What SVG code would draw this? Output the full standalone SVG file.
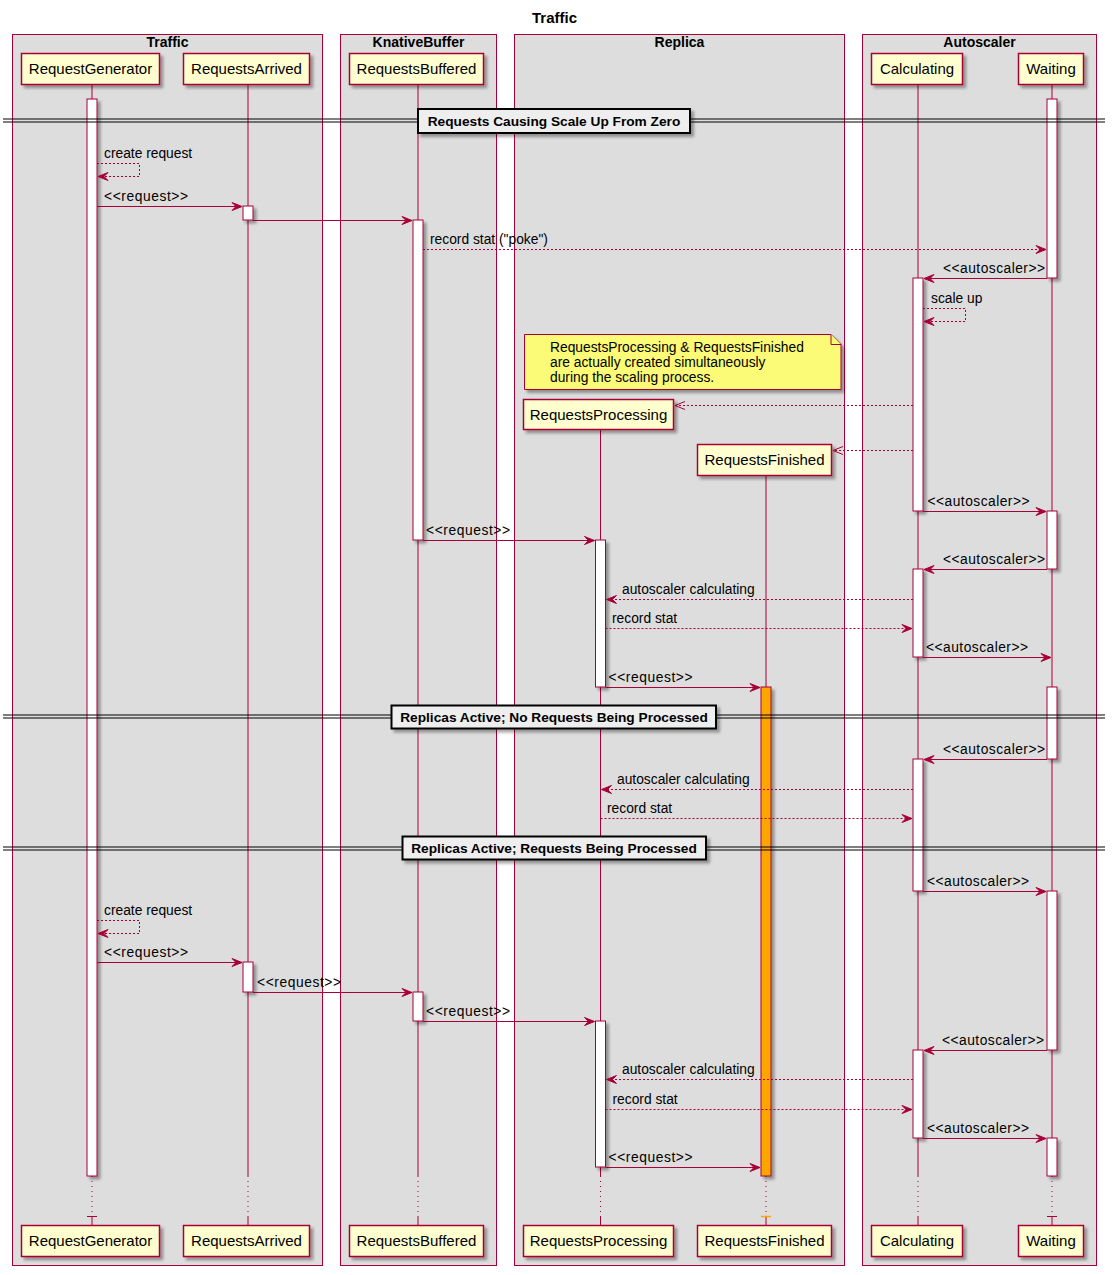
<svg xmlns="http://www.w3.org/2000/svg" width="1116" height="1275" viewBox="0 0 1116 1275">
<style>
text{font-family:"Liberation Sans",Arial,sans-serif;fill:#000}
.grp{fill:#DDDDDD;stroke:#A80036;stroke-width:1}
.grpt{font-size:14px;font-weight:bold;text-anchor:middle}
.title{font-size:15px;font-weight:bold;text-anchor:middle}
.part{fill:#FEFECE;stroke:#A80036;stroke-width:1.5;filter:url(#sh)}
.pt{font-size:15px;text-anchor:middle}
.life{stroke:#A80036;stroke-width:1;fill:none}
.dot{stroke-dasharray:1 4}
.act{fill:#FFFFFF;stroke:#A80036;stroke-width:1;filter:url(#sh)}
.acto{fill:#FFA500;stroke:#A80036;stroke-width:1;filter:url(#sh)}
.msg{stroke:#A80036;stroke-width:1;fill:none}
.dash{stroke-dasharray:2 2}
.mt{font-size:13.8px}
.note{fill:#FBFB77;stroke:#A80036;stroke-width:1}
.dl{stroke:#000;stroke-width:1.2}
.db{fill:#EEEEEE;stroke:#000;stroke-width:2;filter:url(#sh)}
.dt{font-size:13.7px;font-weight:bold;text-anchor:middle}
</style>
<defs>
<filter id="sh" x="-60%" y="-20%" width="220%" height="160%">
<feGaussianBlur in="SourceAlpha" stdDeviation="1.5"/>
<feOffset dx="3" dy="3"/>
<feComponentTransfer><feFuncA type="linear" slope="0.35"/></feComponentTransfer>
<feMerge><feMergeNode/><feMergeNode in="SourceGraphic"/></feMerge>
</filter>
<marker id="af" markerUnits="userSpaceOnUse" markerWidth="12" markerHeight="10" refX="10" refY="4" orient="auto" overflow="visible">
<path d="M0,0 L10,4 L0,8 L4,4 Z" fill="#A80036" stroke="#A80036" stroke-width="1" stroke-dasharray="none"/>
</marker>
<marker id="ao" markerUnits="userSpaceOnUse" markerWidth="12" markerHeight="10" refX="10" refY="4" orient="auto" overflow="visible">
<path d="M0,0 L10,4 L0,8" fill="none" stroke="#A80036" stroke-width="1" stroke-dasharray="none"/>
</marker>
</defs>
<rect width="1116" height="1275" fill="#FFFFFF"/>
<text class="title" x="554.5" y="23">Traffic</text>

<g id="boxes">
<g id="box-traffic"><rect class="grp" x="12.5" y="34.5" width="310" height="1231"/><text class="grpt" x="167.5" y="47">Traffic</text></g>
<g id="box-knativebuffer"><rect class="grp" x="340.5" y="34.5" width="156" height="1231"/><text class="grpt" x="418.5" y="47">KnativeBuffer</text></g>
<g id="box-replica"><rect class="grp" x="514.5" y="34.5" width="330" height="1231"/><text class="grpt" x="679.5" y="47">Replica</text></g>
<g id="box-autoscaler"><rect class="grp" x="862.5" y="34.5" width="234" height="1231"/><text class="grpt" x="979.5" y="47">Autoscaler</text></g>
</g>

<g id="RequestGenerator">
<line class="life" x1="92" y1="84.5" x2="92" y2="1176"/>
<line class="life dot" x1="92" y1="1176" x2="92" y2="1216"/>
<line class="life" x1="92" y1="1216" x2="92" y2="1225.5"/>
<rect class="act" x="87" y="99" width="10" height="1077"/>
<line class="life" x1="87" y1="1216.5" x2="97" y2="1216.5"/>
<rect class="part" x="21.5" y="53.5" width="138" height="31"/><text class="pt" x="90.5" y="74">RequestGenerator</text>
<rect class="part" x="21.5" y="1225.5" width="138" height="31"/><text class="pt" x="90.5" y="1246">RequestGenerator</text>
</g>

<g id="RequestsArrived">
<line class="life" x1="248" y1="84.5" x2="248" y2="1176"/>
<line class="life dot" x1="248" y1="1176" x2="248" y2="1216"/>
<line class="life" x1="248" y1="1216" x2="248" y2="1225.5"/>
<rect class="act" x="243" y="206" width="10" height="14"/>
<rect class="act" x="243" y="962" width="10" height="30"/>
<rect class="part" x="183.5" y="53.5" width="126" height="31"/><text class="pt" x="246.5" y="74">RequestsArrived</text>
<rect class="part" x="183.5" y="1225.5" width="126" height="31"/><text class="pt" x="246.5" y="1246">RequestsArrived</text>
</g>

<g id="RequestsBuffered">
<line class="life" x1="418" y1="84.5" x2="418" y2="1176"/>
<line class="life dot" x1="418" y1="1176" x2="418" y2="1216"/>
<line class="life" x1="418" y1="1216" x2="418" y2="1225.5"/>
<rect class="act" x="413" y="220" width="10" height="320"/>
<rect class="act" x="413" y="992" width="10" height="29"/>
<rect class="part" x="349.5" y="53.5" width="134" height="31"/><text class="pt" x="416.5" y="74">RequestsBuffered</text>
<rect class="part" x="349.5" y="1225.5" width="134" height="31"/><text class="pt" x="416.5" y="1246">RequestsBuffered</text>
</g>

<g id="RequestsProcessing">
<line class="life" x1="600.5" y1="429.5" x2="600.5" y2="1176"/>
<line class="life dot" x1="600.5" y1="1176" x2="600.5" y2="1216"/>
<line class="life" x1="600.5" y1="1216" x2="600.5" y2="1225.5"/>
<rect class="act" x="595.5" y="540" width="10" height="147"/>
<rect class="act" x="595.5" y="1021" width="10" height="146"/>
<rect class="part" x="523.5" y="399.5" width="150" height="30"/><text class="pt" x="598.5" y="420">RequestsProcessing</text>
<rect class="part" x="523.5" y="1225.5" width="150" height="31"/><text class="pt" x="598.5" y="1246">RequestsProcessing</text>
</g>

<g id="RequestsFinished">
<line class="life" x1="766" y1="475.5" x2="766" y2="1176"/>
<line class="life dot" x1="766" y1="1176" x2="766" y2="1216"/>
<line class="life" x1="766" y1="1216" x2="766" y2="1225.5"/>
<rect class="acto" x="761" y="687" width="10" height="489"/>
<line x1="761" y1="1216.5" x2="771" y2="1216.5" stroke="#FFA500" stroke-width="1.5"/>
<rect class="part" x="697.5" y="444.5" width="134" height="31"/><text class="pt" x="764.5" y="465">RequestsFinished</text>
<rect class="part" x="697.5" y="1225.5" width="134" height="31"/><text class="pt" x="764.5" y="1246">RequestsFinished</text>
</g>

<g id="Calculating">
<line class="life" x1="918" y1="84.5" x2="918" y2="1176"/>
<line class="life dot" x1="918" y1="1176" x2="918" y2="1216"/>
<line class="life" x1="918" y1="1216" x2="918" y2="1225.5"/>
<rect class="act" x="913" y="278" width="10" height="233"/>
<rect class="act" x="913" y="569" width="10" height="88"/>
<rect class="act" x="913" y="759" width="10" height="132"/>
<rect class="act" x="913" y="1050" width="10" height="88"/>
<rect class="part" x="871.5" y="53.5" width="91" height="31"/><text class="pt" x="917" y="74">Calculating</text>
<rect class="part" x="871.5" y="1225.5" width="91" height="31"/><text class="pt" x="917" y="1246">Calculating</text>
</g>

<g id="Waiting">
<line class="life" x1="1052" y1="84.5" x2="1052" y2="1176"/>
<line class="life dot" x1="1052" y1="1176" x2="1052" y2="1216"/>
<line class="life" x1="1052" y1="1216" x2="1052" y2="1225.5"/>
<rect class="act" x="1047" y="99" width="10" height="179"/>
<rect class="act" x="1047" y="511" width="10" height="58"/>
<rect class="act" x="1047" y="687" width="10" height="72"/>
<rect class="act" x="1047" y="891" width="10" height="159"/>
<rect class="act" x="1047" y="1138" width="10" height="38"/>
<line class="life" x1="1047" y1="1216.5" x2="1057" y2="1216.5"/>
<rect class="part" x="1018.5" y="53.5" width="65" height="31"/><text class="pt" x="1051" y="74">Waiting</text>
<rect class="part" x="1018.5" y="1225.5" width="65" height="31"/><text class="pt" x="1051" y="1246">Waiting</text>
</g>

<g id="note">
<path class="note" filter="url(#sh)" d="M524.5,334.5 L831,334.5 L841,344.5 L841,389.5 L524.5,389.5 Z"/>
<path class="note" d="M831,334.5 L831,344.5 L841,344.5"/>
<text class="mt" x="550" y="352">RequestsProcessing &amp; RequestsFinished</text>
<text class="mt" x="550" y="367">are actually created simultaneously</text>
<text class="mt" x="550" y="382">during the scaling process.</text>
</g>

<g id="divider1">
<line class="dl" x1="3" y1="119" x2="1105" y2="119"/><line class="dl" x1="3" y1="122" x2="1105" y2="122"/>
<rect class="db" x="418" y="109" width="272" height="24"/>
<text class="dt" x="554" y="126">Requests Causing Scale Up From Zero</text>
</g>
<g id="divider2">
<line class="dl" x1="3" y1="715" x2="1105" y2="715"/><line class="dl" x1="3" y1="718" x2="1105" y2="718"/>
<rect class="db" x="391.5" y="705.5" width="324.5" height="23"/>
<text class="dt" x="554" y="722">Replicas Active; No Requests Being Processed</text>
</g>
<g id="divider3">
<line class="dl" x1="3" y1="847" x2="1105" y2="847"/><line class="dl" x1="3" y1="850" x2="1105" y2="850"/>
<rect class="db" x="402.5" y="836.5" width="303.5" height="23"/>
<text class="dt" x="554" y="853">Replicas Active; Requests Being Processed</text>
</g>

<g id="connectors">
<path class="msg dash" marker-end="url(#af)" d="M97,163.5 H139.5 V176.5 H98"/>
<text class="mt" x="104" y="158">create request</text>
<line class="msg" marker-end="url(#af)" x1="97" y1="206.5" x2="242" y2="206.5"/>
<text class="mt" x="104" y="201" textLength="84" lengthAdjust="spacing">&lt;&lt;request&gt;&gt;</text>
<line class="msg" marker-end="url(#af)" x1="253" y1="220.5" x2="412" y2="220.5"/>
<line class="msg dash" marker-end="url(#af)" x1="423" y1="249.5" x2="1046" y2="249.5"/>
<text class="mt" x="430" y="244">record stat ("poke")</text>
<line class="msg" marker-end="url(#af)" x1="1047" y1="278.5" x2="924" y2="278.5"/>
<text class="mt" x="943" y="273" textLength="102" lengthAdjust="spacing">&lt;&lt;autoscaler&gt;&gt;</text>
<path class="msg dash" marker-end="url(#af)" d="M923,308.5 H965.5 V321.5 H924"/>
<text class="mt" x="931" y="303">scale up</text>
<line class="msg dash" marker-end="url(#ao)" x1="913" y1="405.5" x2="675" y2="405.5"/>
<line class="msg dash" marker-end="url(#ao)" x1="913" y1="450.5" x2="833" y2="450.5"/>
<line class="msg" marker-end="url(#af)" x1="923" y1="511.5" x2="1046" y2="511.5"/>
<text class="mt" x="927.5" y="506" textLength="102" lengthAdjust="spacing">&lt;&lt;autoscaler&gt;&gt;</text>
<line class="msg" marker-end="url(#af)" x1="423" y1="540.5" x2="594.5" y2="540.5"/>
<text class="mt" x="426" y="535" textLength="84" lengthAdjust="spacing">&lt;&lt;request&gt;&gt;</text>
<line class="msg" marker-end="url(#af)" x1="1047" y1="569.5" x2="924" y2="569.5"/>
<text class="mt" x="943" y="564" textLength="102" lengthAdjust="spacing">&lt;&lt;autoscaler&gt;&gt;</text>
<line class="msg dash" marker-end="url(#af)" x1="913" y1="599.5" x2="606.5" y2="599.5"/>
<text class="mt" x="622" y="594">autoscaler calculating</text>
<line class="msg dash" marker-end="url(#af)" x1="605.5" y1="628.5" x2="912" y2="628.5"/>
<text class="mt" x="612" y="623">record stat</text>
<line class="msg" marker-end="url(#af)" x1="923" y1="657.5" x2="1051" y2="657.5"/>
<text class="mt" x="926" y="652" textLength="102" lengthAdjust="spacing">&lt;&lt;autoscaler&gt;&gt;</text>
<line class="msg" marker-end="url(#af)" x1="605.5" y1="687.5" x2="760" y2="687.5"/>
<text class="mt" x="608.5" y="682" textLength="84" lengthAdjust="spacing">&lt;&lt;request&gt;&gt;</text>
<line class="msg" marker-end="url(#af)" x1="1047" y1="759.5" x2="924" y2="759.5"/>
<text class="mt" x="943" y="754" textLength="102" lengthAdjust="spacing">&lt;&lt;autoscaler&gt;&gt;</text>
<line class="msg dash" marker-end="url(#af)" x1="913" y1="789.5" x2="601.5" y2="789.5"/>
<text class="mt" x="617" y="784">autoscaler calculating</text>
<line class="msg dash" marker-end="url(#af)" x1="600.5" y1="818.5" x2="912" y2="818.5"/>
<text class="mt" x="607" y="813">record stat</text>
<line class="msg" marker-end="url(#af)" x1="923" y1="891.5" x2="1046" y2="891.5"/>
<text class="mt" x="927" y="886" textLength="102" lengthAdjust="spacing">&lt;&lt;autoscaler&gt;&gt;</text>
<path class="msg dash" marker-end="url(#af)" d="M97,920.5 H139.5 V933.5 H98"/>
<text class="mt" x="104" y="915">create request</text>
<line class="msg" marker-end="url(#af)" x1="97" y1="962.5" x2="242" y2="962.5"/>
<text class="mt" x="104" y="957" textLength="84" lengthAdjust="spacing">&lt;&lt;request&gt;&gt;</text>
<line class="msg" marker-end="url(#af)" x1="253" y1="992.5" x2="412" y2="992.5"/>
<text class="mt" x="257" y="987" textLength="84" lengthAdjust="spacing">&lt;&lt;request&gt;&gt;</text>
<line class="msg" marker-end="url(#af)" x1="423" y1="1021.5" x2="594.5" y2="1021.5"/>
<text class="mt" x="426" y="1016" textLength="84" lengthAdjust="spacing">&lt;&lt;request&gt;&gt;</text>
<line class="msg" marker-end="url(#af)" x1="1047" y1="1050.5" x2="924" y2="1050.5"/>
<text class="mt" x="942" y="1045" textLength="102" lengthAdjust="spacing">&lt;&lt;autoscaler&gt;&gt;</text>
<line class="msg dash" marker-end="url(#af)" x1="913" y1="1079.5" x2="606.5" y2="1079.5"/>
<text class="mt" x="622" y="1074">autoscaler calculating</text>
<line class="msg dash" marker-end="url(#af)" x1="605.5" y1="1109.5" x2="912" y2="1109.5"/>
<text class="mt" x="612.5" y="1104">record stat</text>
<line class="msg" marker-end="url(#af)" x1="923" y1="1138.5" x2="1046" y2="1138.5"/>
<text class="mt" x="927" y="1133" textLength="102" lengthAdjust="spacing">&lt;&lt;autoscaler&gt;&gt;</text>
<line class="msg" marker-end="url(#af)" x1="605.5" y1="1167.5" x2="760" y2="1167.5"/>
<text class="mt" x="608.5" y="1162" textLength="84" lengthAdjust="spacing">&lt;&lt;request&gt;&gt;</text>
</g>
</svg>
